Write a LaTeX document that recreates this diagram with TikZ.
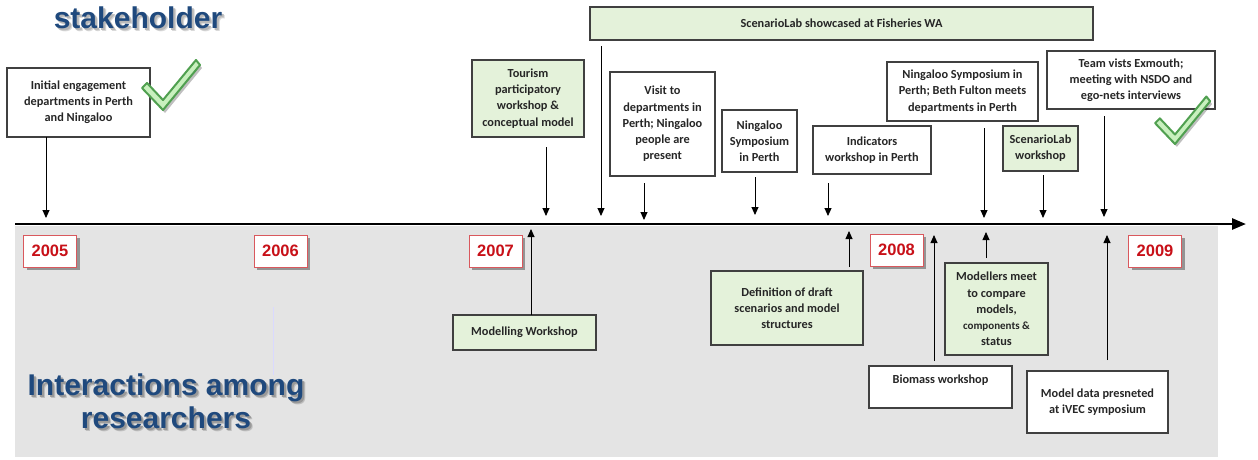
\documentclass[tikz,border=0pt]{standalone}
\usepackage{fontspec}
\setmainfont{Carlito}
\newfontfamily\headfont{Liberation Sans}
\usetikzlibrary{arrows.meta,shadows}
\definecolor{boxline}{RGB}{64,64,64}
\definecolor{boxgreen}{RGB}{228,242,218}
\definecolor{lowband}{RGB}{228,228,228}
\definecolor{yearred}{RGB}{200,16,24}
\definecolor{headblue}{RGB}{31,73,125}
\definecolor{tickfill}{RGB}{200,240,190}
\definecolor{tickline}{RGB}{80,160,80}
% one line of heading text with a soft shadow set behind it
\newcommand\shadowline[3]{\leavevmode
  \rlap{\kern3pt\raisebox{-3pt}{\textcolor{#1}{#3}}}%
  \rlap{\kern2pt\raisebox{-2pt}{\textcolor{#2}{#3}}}#3}
\tikzset{
  evbox/.style={draw=boxline, line width=1.2pt, fill=white, align=center, inner sep=0pt,
    font=\bfseries\fontsize{12.3}{16.2}\selectfont, text=black!85},
  greenbox/.style={evbox, fill=boxgreen},
  yearbox/.style={draw=yearred!70, line width=0.8pt, fill=white, minimum width=53pt, minimum height=32pt,
    inner sep=0pt, font=\headfont\bfseries\fontsize{16.5}{18}\selectfont, text=yearred,
    drop shadow={shadow xshift=3pt, shadow yshift=-3pt, opacity=0.35, fill=black}},
  evarrow/.style={-{Triangle[length=8pt,width=7pt]}, line width=0.9pt, black},
  headline/.style={font=\headfont\bfseries\fontsize{30}{33}\selectfont, text=headblue, align=center},
  tick/.pic={
    \fill[black, opacity=0.25] (2,3) -- (-19,-19) -- (-14,-24) -- (2,-7) -- (35,-47) -- (39,-42) -- cycle;
    \filldraw[fill=tickfill, draw=tickline, line width=2pt, line join=round]
      (0,0) -- (-21,-22) -- (-16,-27) -- (0,-10) -- (33,-50) -- (37,-45) -- cycle;
  }
}
\begin{document}
\begin{tikzpicture}[x=1pt,y=-1pt]
\useasboundingbox (0,0) rectangle (1258,459);
% lower band for the researcher interactions
\fill[lowband] (15,226) rectangle (1218,457);
\draw[blue!15, line width=0.6pt] (273,307) -- (273,375);

% headings
\node[headline] (top) at (138,19) {\shadowline{black!15}{black!28}{stakeholder}};
\node[headline] (bottom) at (166,403)
  {\shadowline{black!25}{black!40}{Interactions among}\\\shadowline{black!25}{black!40}{researchers}};

% time axis
\coordinate (axisL) at (15,224);
\coordinate (axisR) at (1246,224);
\draw[-{Triangle[length=14pt,width=11pt]}, line width=2.6pt] (axisL) -- (axisR);

% years
\node[yearbox] (y2005) at (50,251) {2005};
\node[yearbox] (y2006) at (280.5,251) {2006};
\node[yearbox] (y2007) at (495.5,251) {2007};
\node[yearbox] (y2008) at (896.5,250) {2008};
\node[yearbox] (y2009) at (1155,251) {2009};

% stakeholder events (above the axis)
\node[evbox, minimum width=143pt, minimum height=69pt] (e1) at (78.5,102.5)
  {Initial engagement\\departments in Perth\\and Ningaloo};
\node[greenbox, minimum width=112pt, minimum height=77pt] (e2) at (528,98.5)
  {Tourism\\participatory\\workshop \&\\conceptual model};
\node[greenbox, minimum width=503pt, minimum height=33pt] (e3) at (841.5,23.5)
  {ScenarioLab showcased at Fisheries WA};
\node[evbox, minimum width=105pt, minimum height=104pt] (e4) at (662.5,124)
  {Visit to\\departments in\\Perth; Ningaloo\\people are\\present};
\node[evbox, minimum width=75pt, minimum height=62pt] (e5) at (759.5,141)
  {Ningaloo\\Symposium\\in Perth};
\node[evbox, minimum width=118pt, minimum height=48pt] (e6) at (872,150)
  {Indicators\\workshop in Perth};
\node[evbox, minimum width=151pt, minimum height=59pt] (e7) at (962.5,91.5)
  {Ningaloo Symposium in\\Perth; Beth Fulton meets\\departments in Perth};
\node[greenbox, minimum width=75pt, minimum height=45pt] (e8) at (1040.5,148.5)
  {ScenarioLab\\workshop};
\node[evbox, minimum width=168pt, minimum height=58pt] (e9) at (1131,80)
  {Team vists Exmouth;\\meeting with NSDO and\\ego-nets interviews};

% researcher events (below the axis)
\node[greenbox, minimum width=143pt, minimum height=35pt] (r1) at (524.5,332.5)
  {Modelling Workshop};
\node[greenbox, minimum width=152pt, minimum height=74pt] (r2) at (787,308)
  {Definition of draft\\scenarios and model\\structures};
\node[evbox, minimum width=143pt, minimum height=42pt] (r3) at (940.5,387)
  {Biomass workshop\\\mbox{}};
\node[greenbox, minimum width=103pt, minimum height=92pt] (r4) at (996.5,309)
  {Modellers meet\\to compare\\models,\\{\fontsize{11}{16.2}\selectfont components \&}\\status};
\node[evbox, minimum width=141pt, minimum height=62pt] (r5) at (1097.5,402)
  {Model data presneted\\at iVEC symposium};

% arrow end points
\coordinate (a1s) at (46,137);   \coordinate (a1e) at (46,218);
\coordinate (a2s) at (546,147);  \coordinate (a2e) at (546,216);
\coordinate (a3s) at (601,46);   \coordinate (a3e) at (601,216);
\coordinate (a4s) at (644,183);  \coordinate (a4e) at (644,220);
\coordinate (a5s) at (755,177);  \coordinate (a5e) at (755,215);
\coordinate (a6s) at (828,183);  \coordinate (a6e) at (828,216);
\coordinate (a7s) at (984,128);  \coordinate (a7e) at (984,218);
\coordinate (a8s) at (1043,175); \coordinate (a8e) at (1043,218);
\coordinate (a9s) at (1104,116); \coordinate (a9e) at (1104,217);

\coordinate (b1s) at (531,315);  \coordinate (b1e) at (531,229);
\coordinate (b2s) at (849,267);  \coordinate (b2e) at (849,231);
\coordinate (b3s) at (934,361);  \coordinate (b3e) at (934,235);
\coordinate (b4s) at (986,258);  \coordinate (b4e) at (986,232);
\coordinate (b5s) at (1107,360); \coordinate (b5e) at (1107,235);

\foreach \p in {a1,a2,a3,a4,a5,a6,a7,a8,a9,b1,b2,b3,b4,b5}
  \draw[evarrow] (\p s) -- (\p e);

% check marks
\pic at (163,110) {tick};
\pic[scale=0.95] at (1175,144) {tick};
\end{tikzpicture}
\end{document}
